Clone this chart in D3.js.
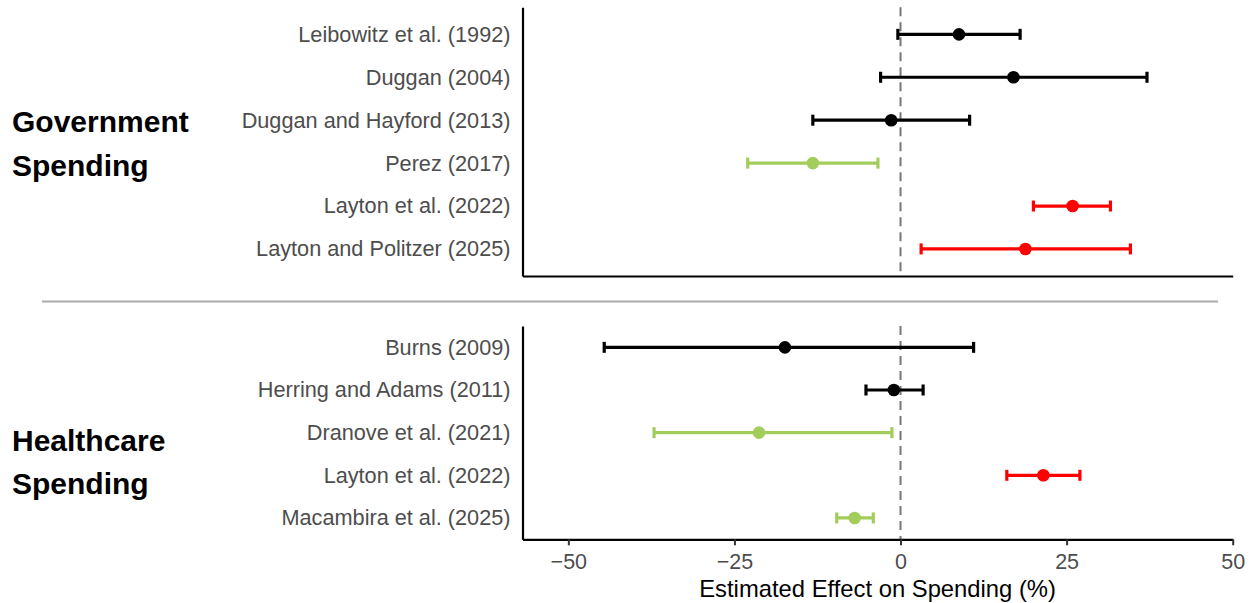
<!DOCTYPE html>
<html>
<head>
<meta charset="utf-8">
<script src="https://cdn.jsdelivr.net/npm/d3@7"></script>
<style>
  body { margin: 0; background: #fff; }
  svg { display: block; font-family: 'Liberation Sans', Arial, Helvetica, sans-serif; }
</style>
</head>
<body>
<svg id="chart"></svg>
<script>
// government spending panel
const govStudies = ['Leibowitz et al. (1992)', 'Duggan (2004)', 'Duggan and Hayford (2013)',
    'Perez (2017)', 'Layton et al. (2022)', 'Layton and Politzer (2025)'];
const govEstimate = [8.8, 17.0, -1.4, -13.2, 25.9, 18.8];
const govLower = [-0.4, -3.0, -13.2, -23.0, 20.0, 3.1];
const govUpper = [18.0, 37.1, 10.4, -3.4, 31.6, 34.6];
const govGroup = ['neutral', 'neutral', 'neutral', 'decrease', 'increase', 'increase'];

// healthcare spending panel
const hcStudies = ['Burns (2009)', 'Herring and Adams (2011)', 'Dranove et al. (2021)',
    'Layton et al. (2022)', 'Macambira et al. (2025)'];
const hcEstimate = [-17.4, -1.0, -21.3, 21.5, -6.9];
const hcLower = [-44.6, -5.2, -37.1, 16.0, -9.6];
const hcUpper = [11.0, 3.4, -1.3, 27.0, -4.1];
const hcGroup = ['neutral', 'neutral', 'decrease', 'increase', 'decrease'];

const xTicks = [-50, -25, 0, 25, 50];
const xDomain = [-56.9, 50];

const colors = { neutral: '#000000', decrease: '#a2cd5a', increase: '#ff0000' };

const width = 1253;
const height = 603;

const svg = d3.select('#chart')
    .attr('width', width)
    .attr('height', height);

const x = d3.scaleLinear().domain(xDomain).range([522.5, 1232.7]);

function drawPanel(cfg) {
    const rows = cfg.studies.map((s, i) => ({
        study: s, est: cfg.est[i], lo: cfg.lo[i], hi: cfg.hi[i], group: cfg.group[i]
    }));

    const y = d3.scalePoint()
        .domain(cfg.studies)
        .range([cfg.top, cfg.bottom])
        .padding(cfg.pad);

    const g = svg.append('g');

    // zero reference
    g.append('line')
        .attr('x1', x(0)).attr('x2', x(0))
        .attr('y1', cfg.top).attr('y2', cfg.bottom)
        .attr('stroke', '#777')
        .attr('stroke-width', 2)
        .attr('stroke-dasharray', '9,6');

    // x axis
    const xAxis = d3.axisBottom(x).tickSizeOuter(0).tickSizeInner(6).tickPadding(8);
    if (cfg.showTicks) xAxis.tickValues(xTicks);
    else xAxis.tickValues([]);
    const xa = g.append('g')
        .attr('transform', `translate(0,${cfg.bottom})`)
        .call(xAxis);
    xa.select('.domain').attr('stroke', '#000').attr('stroke-width', 2.2);
    xa.selectAll('.tick line').attr('stroke', '#333').attr('stroke-width', 2);
    xa.selectAll('.tick text')
        .attr('fill', '#4d4d4d')
        .style('font-size', '21.5px');

    // y axis
    const ya = g.append('g')
        .attr('transform', `translate(${x.range()[0]},0)`)
        .call(d3.axisLeft(y).tickSize(0).tickPadding(12));
    ya.select('.domain').attr('stroke', '#000').attr('stroke-width', 2.2);
    ya.selectAll('.tick text')
        .attr('fill', '#4d4d4d')
        .style('font-size', '21.7px');

    // error bars
    const bars = g.append('g')
        .selectAll('g.bar')
        .data(rows)
        .enter()
        .append('g')
            .attr('class', 'bar')
            .attr('stroke', d => colors[d.group])
            .attr('stroke-width', 3.2);

    bars.append('line')
        .attr('x1', d => x(d.lo)).attr('x2', d => x(d.hi))
        .attr('y1', d => y(d.study)).attr('y2', d => y(d.study));
    bars.append('line')
        .attr('x1', d => x(d.lo)).attr('x2', d => x(d.lo))
        .attr('y1', d => y(d.study) - 5.5).attr('y2', d => y(d.study) + 5.5);
    bars.append('line')
        .attr('x1', d => x(d.hi)).attr('x2', d => x(d.hi))
        .attr('y1', d => y(d.study) - 5.5).attr('y2', d => y(d.study) + 5.5);

    g.append('g')
        .selectAll('circle')
        .data(rows)
        .enter()
        .append('circle')
            .attr('cx', d => x(d.est))
            .attr('cy', d => y(d.study))
            .attr('r', 6.3)
            .attr('fill', d => colors[d.group]);

    // group title
    const title = svg.append('text')
        .attr('x', 12)
        .attr('y', cfg.titleY)
        .attr('fill', '#000')
        .style('font-size', '30px')
        .style('font-weight', 'bold');
    cfg.title.forEach((t, i) => {
        title.append('tspan')
            .attr('x', 12)
            .attr('dy', i === 0 ? 0 : 43.5)
            .text(t);
    });
}

drawPanel({
    studies: govStudies, est: govEstimate, lo: govLower, hi: govUpper, group: govGroup,
    top: 7.3, bottom: 276, pad: 0.63, showTicks: false,
    title: ['Government', 'Spending'], titleY: 132
});

drawPanel({
    studies: hcStudies, est: hcEstimate, lo: hcLower, hi: hcUpper, group: hcGroup,
    top: 326, bottom: 539.3, pad: 0.5, showTicks: true,
    title: ['Healthcare', 'Spending'], titleY: 450.5
});

// divider between panels
svg.append('line')
    .attr('x1', 42).attr('x2', 1218)
    .attr('y1', 301.5).attr('y2', 301.5)
    .attr('stroke', '#aaaaaa')
    .attr('stroke-width', 2);

svg.append('text')
    .attr('x', (x.range()[0] + x.range()[1]) / 2)
    .attr('y', 597)
    .attr('text-anchor', 'middle')
    .attr('fill', '#000')
    .style('font-size', '23.8px')
    .text('Estimated Effect on Spending (%)');
</script>
</body>
</html>
